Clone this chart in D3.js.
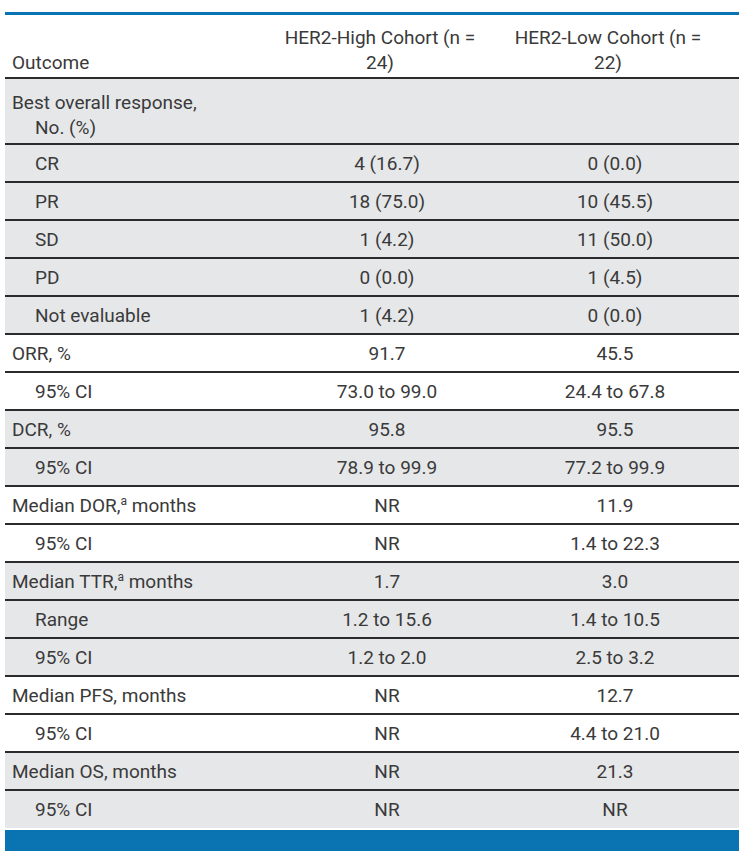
<!DOCTYPE html>
<html lang="en">
<head>
<meta charset="UTF-8">
<script src="https://cdn.jsdelivr.net/npm/d3@7"></script>
<style>
  body { margin: 0; background: #fff; }
  text { font-family: Roboto, "Noto Sans", sans-serif; font-size: 19px; fill: #3a3a3a; }
</style>
</head>
<body>
<svg id="chart" width="745" height="857"></svg>
<script>
// table content
const headers = [["HER2-High Cohort (n =", "24)"], ["HER2-Low Cohort (n =", "22)"]];
const labels = ["CR", "PR", "SD", "PD", "Not evaluable", "ORR, %", "95% CI", "DCR, %", "95% CI",
  "Median DOR,|a| months", "95% CI", "Median TTR,|a| months", "Range", "95% CI",
  "Median PFS, months", "95% CI", "Median OS, months", "95% CI"];
const indent = [1, 1, 1, 1, 1, 0, 1, 0, 1, 0, 1, 0, 1, 1, 0, 1, 0, 1];
const group = [0, 0, 0, 0, 0, 1, 1, 2, 2, 3, 3, 4, 4, 4, 5, 5, 6, 6];
const highVals = ["4 (16.7)", "18 (75.0)", "1 (4.2)", "0 (0.0)", "1 (4.2)", "91.7", "73.0 to 99.0",
  "95.8", "78.9 to 99.9", "NR", "NR", "1.7", "1.2 to 15.6", "1.2 to 2.0", "NR", "NR", "NR", "NR"];
const lowVals = ["0 (0.0)", "10 (45.5)", "11 (50.0)", "1 (4.5)", "0 (0.0)", "45.5", "24.4 to 67.8",
  "95.5", "77.2 to 99.9", "11.9", "1.4 to 22.3", "3.0", "1.4 to 10.5", "2.5 to 3.2", "12.7",
  "4.4 to 21.0", "21.3", "NR"];

const svg = d3.select("#chart");
const left = 5, right = 739;
const grey = "#e6e7e9", line = "#2b2b2b", blue = "#0a73b1";
const colX = [387, 615];
const bodyTop = 144, rowH = 38;
const y = d3.scaleLinear().domain([0, labels.length]).range([bodyTop, bodyTop + rowH * labels.length]);

// header
svg.append("rect").attr("x", left).attr("y", 12).attr("width", right - left).attr("height", 3).attr("fill", blue);
svg.append("text").attr("x", 12).attr("y", 69).text("Outcome");
headers.forEach((h, i) => {
  h.forEach((t, j) => svg.append("text").attr("x", colX[i] - 7).attr("y", 44 + j * 25)
    .attr("text-anchor", "middle").text(t));
});
svg.append("line").attr("x1", left).attr("x2", right).attr("y1", 78).attr("y2", 78)
  .attr("stroke", line).attr("stroke-width", 2);

// "Best overall response" block
svg.append("rect").attr("x", left).attr("y", 79).attr("width", right - left).attr("height", bodyTop - 80).attr("fill", grey);
svg.append("text").attr("x", 12).attr("y", 109).text("Best overall response,");
svg.append("text").attr("x", 35).attr("y", 134).text("No. (%)");

const rows = svg.selectAll("g.row").data(labels).join("g").attr("class", "row")
  .attr("transform", (d, i) => `translate(0,${y(i)})`);

rows.append("rect").attr("x", left).attr("y", 0).attr("width", right - left).attr("height", rowH)
  .attr("fill", (d, i) => group[i] % 2 === 0 ? grey : "#fff");

rows.each(function (d, i) {
  const t = d3.select(this).append("text").attr("x", indent[i] ? 35 : 12).attr("y", 26);
  d.split("|").forEach((part, k) => {
    const s = t.append("tspan").text(part);
    if (k === 1) s.attr("font-size", 12).attr("baseline-shift", "super");
  });
});
rows.append("text").attr("x", colX[0]).attr("y", 26).attr("text-anchor", "middle").text((d, i) => highVals[i]);
rows.append("text").attr("x", colX[1]).attr("y", 26).attr("text-anchor", "middle").text((d, i) => lowVals[i]);

// separators
svg.selectAll("line.sep").data(d3.range(labels.length)).join("line").attr("class", "sep")
  .attr("x1", left).attr("x2", right).attr("y1", i => y(i)).attr("y2", i => y(i))
  .attr("stroke", line).attr("stroke-width", 2);

// bottom bar
svg.append("rect").attr("x", left).attr("y", y(labels.length) + 2).attr("width", right - left).attr("height", 21).attr("fill", blue);
</script>
</body>
</html>
